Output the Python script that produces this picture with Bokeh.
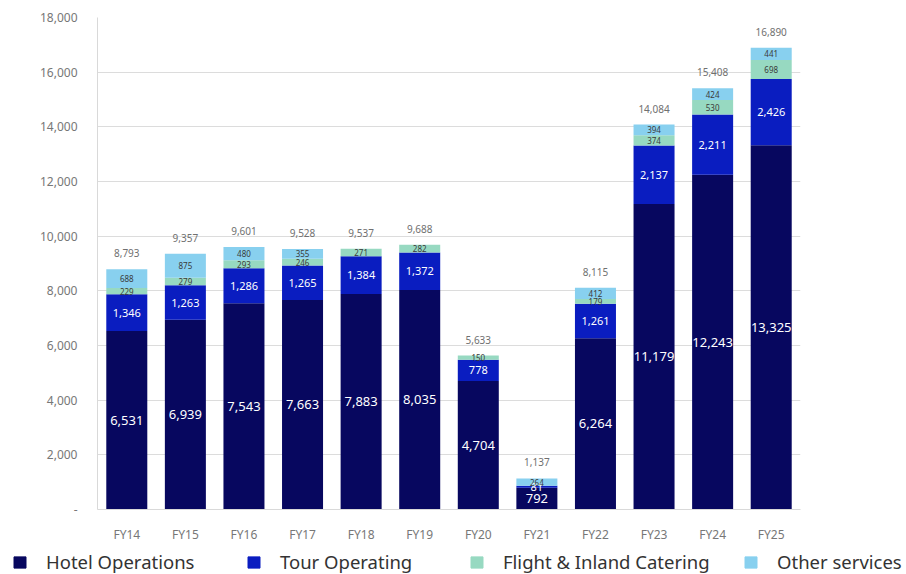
from bokeh.plotting import figure
from bokeh.models import (ColumnDataSource, LabelSet, FixedTicker, NumeralTickFormatter,
                          Legend, LegendItem)
from bokeh.core.properties import value
from bokeh.embed import file_html
from bokeh.resources import INLINE

years = ["FY14", "FY15", "FY16", "FY17", "FY18", "FY19",
         "FY20", "FY21", "FY22", "FY23", "FY24", "FY25"]
hotel = [6531, 6939, 7543, 7663, 7883, 8035, 4704, 792, 6264, 11179, 12243, 13325]
tour = [1346, 1263, 1286, 1265, 1384, 1372, 778, 81, 1261, 2137, 2211, 2426]
flight = [229, 279, 293, 246, 271, 282, 150, 0, 179, 374, 530, 698]
other = [688, 875, 480, 355, 0, 0, 0, 264, 412, 394, 424, 441]
totals = [8793, 9357, 9601, 9528, 9537, 9688, 5633, 1137, 8115, 14084, 15408, 16890]
y_ticks = [0, 2000, 4000, 6000, 8000, 10000, 12000, 14000, 16000, 18000]

series = ["hotel", "tour", "flight", "other"]
names = ["Hotel Operations", "Tour Operating", "Flight & Inland Catering", "Other services"]
colors = ["#07075f", "#0a1dc0", "#97d9c1", "#88d0ef"]

data = dict(years=years, hotel=hotel, tour=tour, flight=flight, other=other, totals=totals,
            total_text=[f"{t:,}" for t in totals])
src = ColumnDataSource(data)

FONT = "Noto Sans"

p = figure(x_range=years, y_range=(0, 18000), width=906, height=545,
           output_backend="svg", toolbar_location=None,
           min_border_left=97, min_border_right=106, min_border_top=17, min_border_bottom=35)

p.vbar_stack(series, x="years", width=0.7, color=colors, source=src, line_color=None)

# labels centred in each stacked segment
base = [0] * len(years)
label_styles = {"hotel": ("white", "13px"), "tour": ("white", "11px"),
                "flight": ("#3a3a3a", "8px"), "other": ("#3a3a3a", "8px")}
for key in series:
    vals = data[key]
    xs, ys, txt = [], [], []
    for i, v in enumerate(vals):
        if v > 0:
            xs.append(years[i])
            ys.append(base[i] + v / 2)
            txt.append(f"{v:,}")
        base[i] += v
    col, size = label_styles[key]
    ls = LabelSet(x="x", y="y", text="t", source=ColumnDataSource(dict(x=xs, y=ys, t=txt)),
                  text_align="center", text_baseline="middle", text_color=col,
                  text_font_size=size, text_font=value(FONT))
    p.add_layout(ls)

tot = LabelSet(x="years", y="totals", text="total_text", source=src, y_offset=16,
               text_align="center", text_baseline="middle", text_color="#707070",
               text_font_size="10px", text_font=value(FONT))
p.add_layout(tot)

# axes
p.yaxis.ticker = FixedTicker(ticks=y_ticks)
p.yaxis.formatter = NumeralTickFormatter(format="0,0")
p.yaxis.major_label_overrides = {0: "-"}
p.yaxis.axis_line_color = "#d9d9d9"
p.yaxis.major_tick_line_color = None
p.yaxis.minor_tick_line_color = None
p.yaxis.major_label_text_color = "#777777"
p.yaxis.major_label_text_font_size = "12px"
p.yaxis.major_label_text_font = FONT
p.yaxis.major_label_standoff = 14

p.xaxis.axis_line_color = "#d9d9d9"
p.xaxis.major_tick_line_color = None
p.xaxis.major_label_text_color = "#777777"
p.xaxis.major_label_text_font_size = "12px"
p.xaxis.major_label_text_font = FONT
p.xaxis.major_label_standoff = 10

p.xgrid.grid_line_color = None
p.ygrid.grid_line_color = "#dcdcdc"
p.ygrid.grid_line_width = 1
p.outline_line_color = None
p.x_range.range_padding = 0

# legend strip below the chart, one legend per series
leg = figure(width=906, height=29, output_backend="svg", toolbar_location=None,
             x_range=(0, 1), y_range=(0, 1), min_border=0,
             x_axis_location=None, y_axis_location=None)
leg.grid.visible = False
leg.outline_line_color = None
nan = float("nan")
leg_x = [12, 246, 469, 743]
for n, c, lx in zip(names, colors, leg_x):
    # swatch-only renderer: one undefined quad, so nothing shows in the strip itself
    r = leg.quad(left=[nan], right=[nan], top=[nan], bottom=[nan], color=c)
    lg = Legend(items=[LegendItem(label=n, renderers=[r])], location=(lx, 0),
                glyph_width=15, glyph_height=14, label_standoff=19,
                label_text_font=FONT, label_text_font_size="18.5px",
                label_text_color="#333333", border_line_color=None,
                background_fill_alpha=0, padding=0, margin=0)
    leg.add_layout(lg)

open("out.html", "w").write(file_html([p, leg], INLINE))
